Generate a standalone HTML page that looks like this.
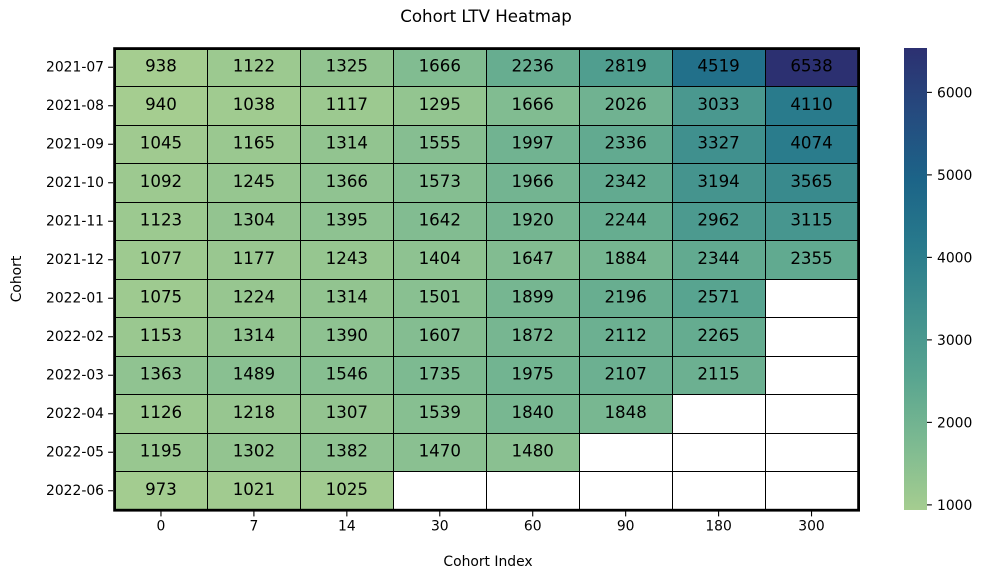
<!DOCTYPE html>
<html lang="en">
<head>
<meta charset="utf-8">
<title>Cohort LTV Heatmap</title>
<style>
html,body{margin:0;padding:0;background:#fff;width:982px;height:579px;overflow:hidden}
svg{display:block}
text{font-family:"DejaVu Sans","Liberation Sans",sans-serif;fill:#000}
</style>
</head>
<body>
<svg id="chart" xmlns="http://www.w3.org/2000/svg" width="982" height="579" viewBox="0 0 982 579"></svg>
<script>
const cohorts = ["2021-07","2021-08","2021-09","2021-10","2021-11","2021-12","2022-01","2022-02","2022-03","2022-04","2022-05","2022-06"];
const cohortIndex = ["0","7","14","30","60","90","180","300"];
const ltv2021_07 = [938,1122,1325,1666,2236,2819,4519,6538];
const ltv2021_08 = [940,1038,1117,1295,1666,2026,3033,4110];
const ltv2021_09 = [1045,1165,1314,1555,1997,2336,3327,4074];
const ltv2021_10 = [1092,1245,1366,1573,1966,2342,3194,3565];
const ltv2021_11 = [1123,1304,1395,1642,1920,2244,2962,3115];
const ltv2021_12 = [1077,1177,1243,1404,1647,1884,2344,2355];
const ltv2022_01 = [1075,1224,1314,1501,1899,2196,2571,null];
const ltv2022_02 = [1153,1314,1390,1607,1872,2112,2265,null];
const ltv2022_03 = [1363,1489,1546,1735,1975,2107,2115,null];
const ltv2022_04 = [1126,1218,1307,1539,1840,1848,null,null];
const ltv2022_05 = [1195,1302,1382,1470,1480,null,null,null];
const ltv2022_06 = [973,1021,1025,null,null,null,null,null];
const rows = [ltv2021_07,ltv2021_08,ltv2021_09,ltv2021_10,ltv2021_11,ltv2021_12,ltv2022_01,ltv2022_02,ltv2022_03,ltv2022_04,ltv2022_05,ltv2022_06];
const colorbarTicks = [1000,2000,3000,4000,5000,6000];

const crest = [[165,205,144],[125,186,145],[89,165,144],[64,144,142],[40,122,140],[28,100,136],[37,75,127],[44,48,113]];

const plot = {left:114.5, right:858, top:48, bottom:510};
const bar = {left:904, right:927, top:48, bottom:510};
const svg = document.getElementById('chart');
const NS = 'http://www.w3.org/2000/svg';
const flat = rows.flat().filter(v => v !== null);
const vmin = Math.min(...flat);
const vmax = Math.max(...flat);
const colW = (plot.right - plot.left) / cohortIndex.length;
const rowH = (plot.bottom - plot.top) / cohorts.length;
const xPos = i => plot.left + colW * i;
const yPos = i => plot.top + rowH * i;
const snap = p => Math.floor(p) + 0.5;
const barY = v => bar.bottom - (v - vmin) / (vmax - vmin) * (bar.bottom - bar.top);

function colorFor(v) {
  const t = Math.min(1, Math.max(0, (v - vmin) / (vmax - vmin))) * (crest.length - 1);
  const i = Math.min(crest.length - 2, Math.floor(t));
  const f = t - i;
  const c = crest[i].map((a, k) => Math.round(a + (crest[i + 1][k] - a) * f));
  return 'rgb(' + c.join(',') + ')';
}
function make(tag, attrs, txt) {
  const el = document.createElementNS(NS, tag);
  for (const k in attrs) el.setAttribute(k, attrs[k]);
  if (txt !== undefined) el.textContent = txt;
  svg.appendChild(el);
  return el;
}

const title = make('text', {x:486, y:22, 'text-anchor':'middle', 'font-size':16.67}, 'Cohort LTV Heatmap');



rows.forEach((row, r) => {
  row.forEach((v, c) => {
    const cell = make('rect', {x:xPos(c), y:yPos(r), width:colW, height:rowH, fill: v === null ? '#ffffff' : colorFor(v), 'shape-rendering':'crispEdges'});
    
    
  });
});
for (let c = 1; c < cohortIndex.length; c++) {
  const gridV = make('line', {x1:snap(xPos(c)), x2:snap(xPos(c)), y1:plot.top, y2:plot.bottom, stroke:'#000', 'stroke-width':1});
  
  
}
for (let r = 1; r < cohorts.length; r++) {
  const gridH = make('line', {x1:plot.left, x2:plot.right, y1:snap(yPos(r)), y2:snap(yPos(r)), stroke:'#000', 'stroke-width':1});
  
  
}
rows.forEach((row, r) => {
  row.forEach((v, c) => {
    if (v === null) return;
    const label = make('text', {x:xPos(c) + colW / 2, y:yPos(r) + rowH / 2 + 4.25, 'text-anchor':'middle', 'font-size':16.67}, String(v));
    
    
  });
});

const frame = make('rect', {x:plot.left + 0.1, y:plot.top + 0.6, width:plot.right - plot.left + 0.5, height:plot.bottom - plot.top - 0.4, fill:'none', stroke:'#000', 'stroke-width':2.8});



cohorts.forEach((name, r) => {
  const y = yPos(r) + rowH / 2;
  const tick = make('line', {x1:plot.left - 6.4, x2:plot.left - 1.5, y1:y, y2:y, stroke:'#000', 'stroke-width':1.1});
  
  
  const label = make('text', {x:104, y:y + 4, 'text-anchor':'end', 'font-size':13.89}, name);
  
  
});
cohortIndex.forEach((name, c) => {
  const x = xPos(c) + colW / 2;
  const tick = make('line', {x1:x, x2:x, y1:plot.bottom + 1.5, y2:plot.bottom + 6.4, stroke:'#000', 'stroke-width':1.1});
  
  
  const label = make('text', {x:x, y:530.5, 'text-anchor':'middle', 'font-size':13.89}, name);
  
  
});

const xTitle = make('text', {x:488, y:566, 'text-anchor':'middle', 'font-size':13.89}, 'Cohort Index');


const yTitle = make('text', {x:0, y:0, transform:'translate(21 279) rotate(-90)', 'text-anchor':'middle', 'font-size':13.89}, 'Cohort');



const defs = make('defs', {});
const grad = document.createElementNS(NS, 'linearGradient');
grad.setAttribute('id', 'crest-gradient');
grad.setAttribute('x1', '0');
grad.setAttribute('y1', '1');
grad.setAttribute('x2', '0');
grad.setAttribute('y2', '0');
crest.forEach((c, i) => {
  const stop = document.createElementNS(NS, 'stop');
  stop.setAttribute('offset', i / (crest.length - 1));
  stop.setAttribute('stop-color', 'rgb(' + c.join(',') + ')');
  grad.appendChild(stop);
});
defs.appendChild(grad);
const colorbar = make('rect', {x:bar.left, y:bar.top, width:bar.right - bar.left, height:bar.bottom - bar.top, fill:'url(#crest-gradient)'});


colorbarTicks.forEach(v => {
  const y = barY(v);
  const tick = make('line', {x1:bar.right, x2:bar.right + 4.9, y1:y, y2:y, stroke:'#000', 'stroke-width':1.1});
  
  
  const label = make('text', {x:937, y:y + 5, 'font-size':13.89}, String(v));
  
  
});
</script>
</body>
</html>
